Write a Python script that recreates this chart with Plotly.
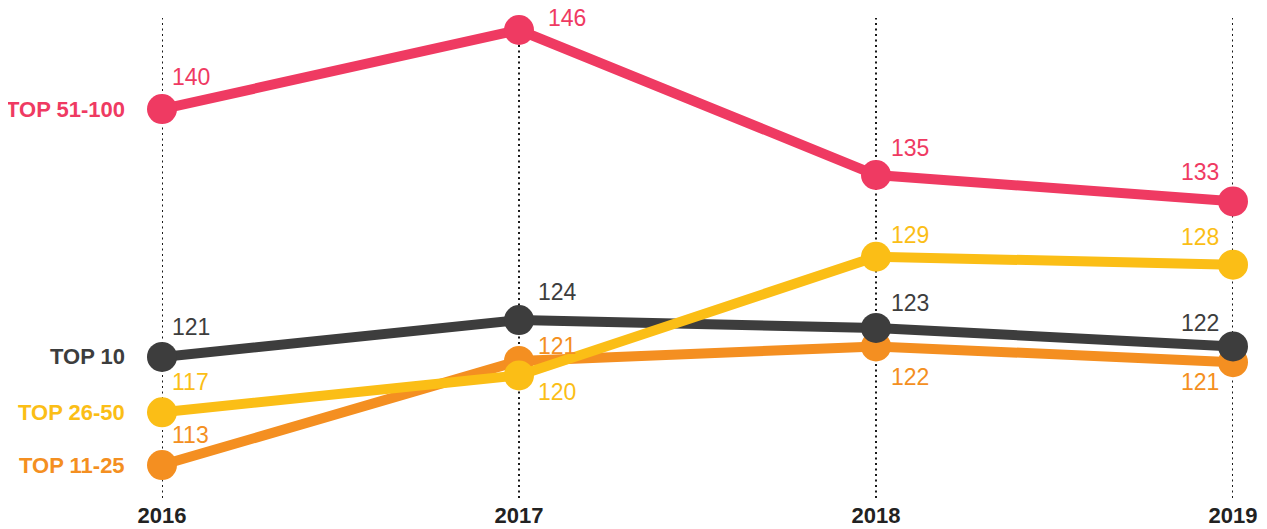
import plotly.graph_objects as go

years = [2016, 2017, 2018, 2019]
series_names = ["TOP 11-25", "TOP 10", "TOP 26-50", "TOP 51-100"]
top_11_25 = [113, 120.9, 122, 120.8]
top_10 = [121.2, 124, 123.4, 122]
top_26_50 = [117, 119.8, 128.8, 128.2]
top_51_100 = [140, 146, 135, 133]
tick_labels = ["2016", "2017", "2018", "2019"]

values = [top_11_25, top_10, top_26_50, top_51_100]
colors = ["#F48F21", "#3D3D3D", "#FBBE16", "#EF3A62"]

# label offsets (xanchor, xshift, yshift) per point
offsets = [
    [("left", 8, 30), ("left", 17, 15), ("left", 13, -31), ("right", -12, -20)],
    [("left", 8, 30), ("left", 17, 28), ("left", 13, 25), ("right", -12, 23)],
    [("left", 8, 30), ("left", 17, -17), ("left", 13, 22), ("right", -12, 28)],
    [("left", 8, 32), ("left", 27, 12), ("left", 13, 27), ("right", -12, 29)],
]

FONT = "Liberation Sans, Arial, sans-serif"
fig = go.Figure()

shapes = [dict(type="line", xref="x", yref="paper", x0=yr, x1=yr, y0=0, y1=1,
               line=dict(color="#1a1a1a", width=2, dash="2px,3.5px"), layer="below")
          for yr in years]

annotations = []
for name, vals, col, offs in zip(series_names, values, colors, offsets):
    fig.add_trace(go.Scatter(
        x=years, y=vals, mode="lines+markers", name=name,
        line=dict(color=col, width=10),
        marker=dict(color=col, size=30),
        cliponaxis=False, hoverinfo="skip",
    ))
    for xv, yv, (xa, xs, ys) in zip(years, vals, offs):
        annotations.append(dict(
            x=xv, y=yv, xref="x", yref="y", text=str(round(yv)),
            showarrow=False, xanchor=xa, yanchor="middle",
            xshift=xs, yshift=ys,
            font=dict(family=FONT, size=23, color=col),
        ))
    annotations.append(dict(
        x=years[0], y=vals[0], xref="x", yref="y", text="<b>%s</b>" % name,
        showarrow=False, xanchor="right", yanchor="middle", xshift=-35,
        font=dict(family=FONT, size=22, color=col),
    ))

fig.update_layout(
    width=1267, height=529,
    margin=dict(l=154, r=42, t=10, b=39),
    paper_bgcolor="white", plot_bgcolor="white",
    showlegend=False,
    annotations=annotations,
    shapes=shapes,
    xaxis=dict(
        range=[2016, 2019], tickvals=years, ticktext=["<b>%s</b>" % t for t in tick_labels],
        showgrid=False, zeroline=False, showline=False, ticks="",
        ticklabelstandoff=2, automargin=False,
        tickfont=dict(family=FONT, size=22, color="#222222"),
    ),
    yaxis=dict(
        range=[110.5, 146.91], showgrid=False, zeroline=False,
        showticklabels=False, showline=False, ticks="", automargin=False,
    ),
)
fig.write_html("out.html")
